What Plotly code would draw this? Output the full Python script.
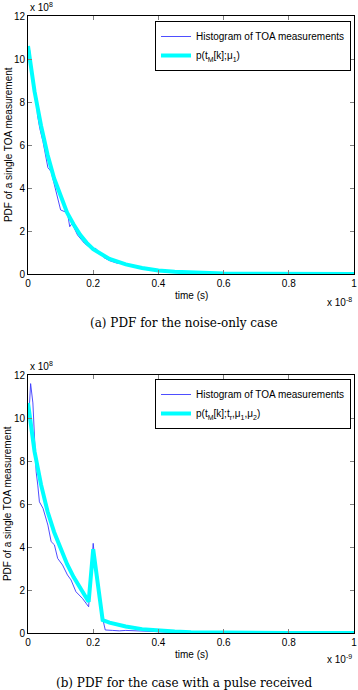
import plotly.graph_objects as go

# ---------------- data (time in units of 1e-8 / 1e-9 s, PDF in units of 1e8) ----------------
# (a) noise-only case
t_hist_a = [0.005, 0.009, 0.015, 0.02, 0.026, 0.029, 0.036, 0.046, 0.057, 0.061, 0.071, 0.081,
            0.092, 0.1, 0.117, 0.122, 0.128, 0.135, 0.152, 0.173, 0.193, 0.208, 0.233, 0.25,
            0.274, 0.288, 0.3, 0.33, 0.36, 0.39, 0.42, 0.45, 0.5, 0.55, 0.6, 0.7, 0.8, 0.9, 1.0]
pdf_hist_a = [10.42, 9.75, 9.2, 8.8, 8.17, 7.4, 6.78, 6.15, 5.15, 4.95, 4.76, 4.14,
              3.36, 2.98, 2.87, 2.75, 2.2, 2.35, 1.81, 1.43, 1.19, 1.19, 0.76, 0.62,
              0.5, 0.55, 0.45, 0.35, 0.25, 0.15, 0.12, 0.08, 0.05, 0.03, 0.02, 0.01, 0.005, 0.002, 0.001]
t_fit_a = [0, 0.02, 0.04, 0.06, 0.08, 0.10, 0.12, 0.14, 0.16, 0.18, 0.20, 0.25, 0.30,
           0.35, 0.40, 0.45, 0.50, 0.60, 0.70, 0.80, 0.90, 1.00]
pdf_fit_a = [10.6, 8.5, 6.9, 5.55, 4.45, 3.6, 2.85, 2.3, 1.82, 1.45, 1.15, 0.7, 0.45,
             0.28, 0.16, 0.1, 0.06, 0.025, 0.01, 0.004, 0.002, 0.001]

# (b) case with a pulse received
t_hist_b = [0.003, 0.008, 0.015, 0.019, 0.025, 0.03, 0.035, 0.046, 0.061, 0.071, 0.081, 0.091,
            0.106, 0.121, 0.132, 0.147, 0.167, 0.186, 0.2, 0.205, 0.213, 0.229, 0.237, 0.26,
            0.28, 0.3, 0.33, 0.36, 0.4, 0.45, 0.5, 0.6, 0.7, 0.8, 0.9, 1.0]
pdf_hist_b = [10.2, 11.6, 10.7, 9.05, 7.5, 6.88, 6.1, 5.8, 5.02, 4.25, 4.1, 3.47,
              3.16, 2.7, 2.47, 1.92, 1.61, 1.22, 4.17, 3.4, 2.7, 0.68, 0.14, 0.12,
              0.1, 0.12, 0.1, 0.08, 0.05, 0.03, 0.02, 0.01, 0.005, 0.002, 0.001, 0.001]
t_fit_b = [0, 0.02, 0.04, 0.06, 0.08, 0.10, 0.12, 0.14, 0.16, 0.186, 0.20, 0.229, 0.25,
           0.30, 0.35, 0.40, 0.45, 0.50, 0.60, 0.70, 0.80, 1.00]
pdf_fit_b = [10.7, 8.45, 6.9, 5.65, 4.7, 3.9, 3.2, 2.6, 2.1, 1.45, 3.9, 0.6, 0.48,
             0.3, 0.18, 0.11, 0.07, 0.04, 0.015, 0.005, 0.002, 0.001]

x_ticks = [0, 0.2, 0.4, 0.6, 0.8, 1]
x_tick_labels = ["0", "0.2", "0.4", "0.6", "0.8", "1"]
y_ticks = [0, 2, 4, 6, 8, 10, 12]

legend_hist = "Histogram of TOA measurements"
legend_fit_a = "p(t<sub>M</sub>[k];μ<sub>1</sub>)"
legend_fit_b = "p(t<sub>M</sub>[k];t<sub>r</sub>,μ<sub>1</sub>,μ<sub>2</sub>)"
y_title = "PDF of a single TOA measurement"
x_title = "time (s)"
caption_a = "(a) PDF for the noise-only case"
caption_b = "(b) PDF for the case with a pulse received"

# ---------------- figure ----------------
W, H = 358, 690
ML, MR, MT, MB = 28, 1, 16, 57
plot_h = H - MT - MB


def frac(py):
    return (H - MB - py) / plot_h


HIST_COLOR = "#3a3aff"
FIT_COLOR = "#00ffff"
SANS = "Liberation Sans, Arial, sans-serif"
SERIF = "DejaVu Serif, serif"

fig = go.Figure()
fig.add_trace(go.Scatter(x=t_hist_a, y=pdf_hist_a, mode="lines", name=legend_hist,
                         line=dict(color=HIST_COLOR, width=0.9), xaxis="x", yaxis="y", legend="legend"))
fig.add_trace(go.Scatter(x=t_fit_a, y=pdf_fit_a, mode="lines", name=legend_fit_a,
                         line=dict(color=FIT_COLOR, width=4), xaxis="x", yaxis="y", legend="legend"))
fig.add_trace(go.Scatter(x=t_hist_b, y=pdf_hist_b, mode="lines", name=legend_hist,
                         line=dict(color=HIST_COLOR, width=0.9), xaxis="x2", yaxis="y2", legend="legend2"))
fig.add_trace(go.Scatter(x=t_fit_b, y=pdf_fit_b, mode="lines", name=legend_fit_b,
                         line=dict(color=FIT_COLOR, width=4), xaxis="x2", yaxis="y2", legend="legend2"))

axis_common = dict(showgrid=False, zeroline=False, showline=True, linecolor="black", linewidth=1,
                   mirror="ticks", ticks="inside", ticklen=4, tickcolor="#808080",
                   ticklabeloverflow="allow",
                   tickfont=dict(family=SANS, size=10, color="black"))

legend_common = dict(x=1 - 3 / 329, xanchor="right", yanchor="top",
                     bgcolor="white", bordercolor="black", borderwidth=1,
                     font=dict(family=SANS, size=10, color="black"), tracegroupgap=0)

fig.update_layout(
    width=W, height=H,
    margin=dict(l=ML, r=MR, t=MT, b=MB),
    paper_bgcolor="white", plot_bgcolor="white",
    xaxis=dict(domain=[0, 1], anchor="y", range=[0, 1], tickvals=x_ticks, ticktext=x_tick_labels, **axis_common),
    yaxis=dict(domain=[frac(274), 1], anchor="x", range=[0, 12], tickvals=y_ticks, **axis_common),
    xaxis2=dict(domain=[0, 1], anchor="y2", range=[0, 1], tickvals=x_ticks, ticktext=x_tick_labels, **axis_common),
    yaxis2=dict(domain=[0, frac(375)], anchor="x2", range=[0, 12], tickvals=y_ticks, **axis_common),
    legend=dict(y=frac(21), **legend_common),
    legend2=dict(y=frac(379), **legend_common),
    showlegend=True,
)

annots = []
for xr, yr in (("x domain", "y domain"), ("x2 domain", "y2 domain")):
    annots += [
        dict(xref=xr, yref=yr, x=0, y=1.035, xanchor="left", yanchor="middle", showarrow=False,
             text="x 10<sup>8</sup>", font=dict(family=SANS, size=10, color="black")),
        dict(xref=xr, yref=yr, x=0.5, y=-0.084, xanchor="center", yanchor="middle", showarrow=False,
             text=x_title, font=dict(family=SANS, size=10, color="black")),
        dict(xref=xr, yref=yr, x=-0.061, y=0.5, xanchor="center", yanchor="middle", showarrow=False,
             textangle=-90, text=y_title, font=dict(family=SANS, size=10, color="black")),
    ]
annots += [
    dict(xref="x domain", yref="y domain", x=1, y=-0.107, xanchor="right", yanchor="middle",
         showarrow=False, text="x 10<sup>-8</sup>", font=dict(family=SANS, size=10, color="black")),
    dict(xref="x2 domain", yref="y2 domain", x=1, y=-0.102, xanchor="right", yanchor="middle",
         showarrow=False, text="x 10<sup>-9</sup>", font=dict(family=SANS, size=10, color="black")),
    dict(xref="x domain", yref="y domain", x=0.477, y=-0.19, xanchor="center", yanchor="middle",
         showarrow=False, text=caption_a, font=dict(family=SERIF, size=12, color="black")),
    dict(xref="x2 domain", yref="y2 domain", x=0.477, y=-0.194, xanchor="center", yanchor="middle",
         showarrow=False, text=caption_b, font=dict(family=SERIF, size=12, color="black")),
]
fig.update_layout(annotations=annots)

fig.write_html("out.html", config={"displayModeBar": False},
               post_script="document.body.style.margin='0';document.body.style.overflow='hidden';")
